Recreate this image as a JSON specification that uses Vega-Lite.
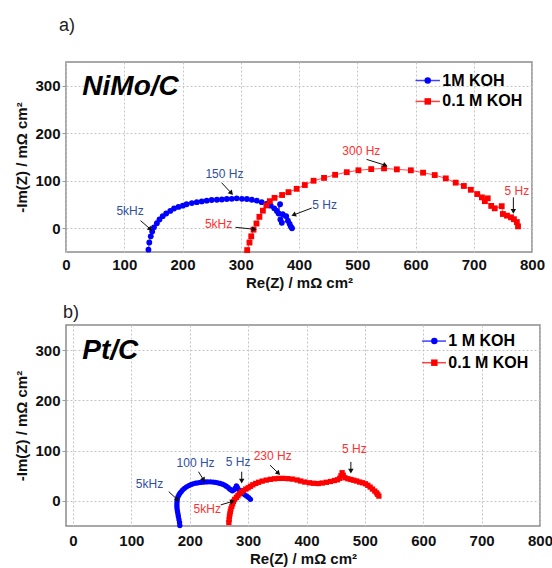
{
  "$schema": "https://vega.github.io/schema/vega-lite/v6.json",
  "background": "white",
  "padding": {"top": 16, "left": 14, "right": 0, "bottom": 0},
  "spacing": 12,
  "resolve": {"scale": {"color": "independent", "shape": "independent", "stroke": "independent", "x": "independent", "y": "independent"}},
  "datasets": {
    "nimo": [
      {"Re":141.5,"Im":-45,"s":"1M KOH"},{"Re":143,"Im":-30,"s":"1M KOH"},{"Re":145.5,"Im":-17,"s":"1M KOH"},{"Re":148,"Im":-7,"s":"1M KOH"},{"Re":151,"Im":2,"s":"1M KOH"},{"Re":156,"Im":10.5,"s":"1M KOH"},{"Re":160.5,"Im":18.5,"s":"1M KOH"},{"Re":166,"Im":25.5,"s":"1M KOH"},{"Re":172,"Im":31,"s":"1M KOH"},{"Re":179,"Im":36.5,"s":"1M KOH"},{"Re":185.5,"Im":41.5,"s":"1M KOH"},{"Re":193,"Im":45,"s":"1M KOH"},{"Re":200.5,"Im":47.5,"s":"1M KOH"},{"Re":207,"Im":50.5,"s":"1M KOH"},{"Re":216,"Im":53,"s":"1M KOH"},{"Re":224.5,"Im":55,"s":"1M KOH"},{"Re":233,"Im":56.5,"s":"1M KOH"},{"Re":241.5,"Im":58,"s":"1M KOH"},{"Re":250,"Im":59.5,"s":"1M KOH"},{"Re":259,"Im":60,"s":"1M KOH"},{"Re":267.5,"Im":60.5,"s":"1M KOH"},{"Re":276,"Im":61.5,"s":"1M KOH"},{"Re":284.5,"Im":62,"s":"1M KOH"},{"Re":293,"Im":63,"s":"1M KOH"},{"Re":302,"Im":62,"s":"1M KOH"},{"Re":310.5,"Im":61.5,"s":"1M KOH"},{"Re":319,"Im":60,"s":"1M KOH"},{"Re":327.5,"Im":58,"s":"1M KOH"},{"Re":336,"Im":55,"s":"1M KOH"},{"Re":345,"Im":52,"s":"1M KOH"},{"Re":351.5,"Im":47.5,"s":"1M KOH"},{"Re":357.5,"Im":42,"s":"1M KOH"},{"Re":362,"Im":36.5,"s":"1M KOH"},{"Re":367.5,"Im":50.5,"s":"1M KOH"},{"Re":365,"Im":31,"s":"1M KOH"},{"Re":372,"Im":29.5,"s":"1M KOH"},{"Re":378,"Im":25.5,"s":"1M KOH"},{"Re":368,"Im":18.5,"s":"1M KOH"},{"Re":370.5,"Im":11.5,"s":"1M KOH"},{"Re":381,"Im":16,"s":"1M KOH"},{"Re":384,"Im":9,"s":"1M KOH"},{"Re":386,"Im":3.5,"s":"1M KOH"},{"Re":388,"Im":0,"s":"1M KOH"},
      {"Re":311,"Im":-46,"s":"0.1 M KOH"},{"Re":315,"Im":-30,"s":"0.1 M KOH"},{"Re":318,"Im":-17,"s":"0.1 M KOH"},{"Re":322,"Im":-3,"s":"0.1 M KOH"},{"Re":327,"Im":10,"s":"0.1 M KOH"},{"Re":332,"Im":24,"s":"0.1 M KOH"},{"Re":338,"Im":37,"s":"0.1 M KOH"},{"Re":344,"Im":48,"s":"0.1 M KOH"},{"Re":350,"Im":57,"s":"0.1 M KOH"},{"Re":358,"Im":64,"s":"0.1 M KOH"},{"Re":371,"Im":70,"s":"0.1 M KOH"},{"Re":382,"Im":76,"s":"0.1 M KOH"},{"Re":396,"Im":83,"s":"0.1 M KOH"},{"Re":410,"Im":91,"s":"0.1 M KOH"},{"Re":425,"Im":100,"s":"0.1 M KOH"},{"Re":443,"Im":106,"s":"0.1 M KOH"},{"Re":462,"Im":112.5,"s":"0.1 M KOH"},{"Re":482,"Im":118,"s":"0.1 M KOH"},{"Re":502,"Im":122,"s":"0.1 M KOH"},{"Re":524,"Im":124.5,"s":"0.1 M KOH"},{"Re":546,"Im":126,"s":"0.1 M KOH"},{"Re":568,"Im":124,"s":"0.1 M KOH"},{"Re":592,"Im":122,"s":"0.1 M KOH"},{"Re":613,"Im":117,"s":"0.1 M KOH"},{"Re":633,"Im":112,"s":"0.1 M KOH"},{"Re":652,"Im":105,"s":"0.1 M KOH"},{"Re":669,"Im":96,"s":"0.1 M KOH"},{"Re":683,"Im":89,"s":"0.1 M KOH"},{"Re":695,"Im":81,"s":"0.1 M KOH"},{"Re":706,"Im":72,"s":"0.1 M KOH"},{"Re":714,"Im":65,"s":"0.1 M KOH"},{"Re":724,"Im":63,"s":"0.1 M KOH"},{"Re":719,"Im":57,"s":"0.1 M KOH"},{"Re":730,"Im":47,"s":"0.1 M KOH"},{"Re":736,"Im":42,"s":"0.1 M KOH"},{"Re":748,"Im":46.5,"s":"0.1 M KOH"},{"Re":750,"Im":30,"s":"0.1 M KOH"},{"Re":757,"Im":26.5,"s":"0.1 M KOH"},{"Re":764,"Im":23,"s":"0.1 M KOH"},{"Re":769,"Im":19,"s":"0.1 M KOH"},{"Re":774,"Im":13,"s":"0.1 M KOH"},{"Re":776,"Im":4,"s":"0.1 M KOH"}
    ],
    "pt": [
      {"Re":183,"Im":-49,"s":"1 M KOH"},{"Re":182.5,"Im":-43,"s":"1 M KOH"},{"Re":181.5,"Im":-37,"s":"1 M KOH"},{"Re":180.5,"Im":-31,"s":"1 M KOH"},{"Re":179.8,"Im":-26,"s":"1 M KOH"},{"Re":179,"Im":-21,"s":"1 M KOH"},{"Re":178.3,"Im":-16,"s":"1 M KOH"},{"Re":178,"Im":-11,"s":"1 M KOH"},{"Re":178,"Im":-6,"s":"1 M KOH"},{"Re":178.2,"Im":-1,"s":"1 M KOH"},{"Re":178.7,"Im":4,"s":"1 M KOH"},{"Re":179.8,"Im":8,"s":"1 M KOH"},{"Re":181.5,"Im":12,"s":"1 M KOH"},{"Re":183.3,"Im":15.5,"s":"1 M KOH"},{"Re":185.5,"Im":18.6,"s":"1 M KOH"},{"Re":188,"Im":22,"s":"1 M KOH"},{"Re":191,"Im":25,"s":"1 M KOH"},{"Re":194.5,"Im":28,"s":"1 M KOH"},{"Re":198.5,"Im":30.5,"s":"1 M KOH"},{"Re":202,"Im":32.5,"s":"1 M KOH"},{"Re":205.5,"Im":34,"s":"1 M KOH"},{"Re":210,"Im":35.2,"s":"1 M KOH"},{"Re":214,"Im":36,"s":"1 M KOH"},{"Re":218,"Im":36.8,"s":"1 M KOH"},{"Re":222.5,"Im":37.3,"s":"1 M KOH"},{"Re":227,"Im":37.8,"s":"1 M KOH"},{"Re":231,"Im":38,"s":"1 M KOH"},{"Re":235.5,"Im":38,"s":"1 M KOH"},{"Re":240,"Im":37.5,"s":"1 M KOH"},{"Re":244,"Im":37,"s":"1 M KOH"},{"Re":248,"Im":36,"s":"1 M KOH"},{"Re":252,"Im":34.8,"s":"1 M KOH"},{"Re":256,"Im":33.3,"s":"1 M KOH"},{"Re":259.5,"Im":31.5,"s":"1 M KOH"},{"Re":262.5,"Im":29.3,"s":"1 M KOH"},{"Re":265.5,"Im":27,"s":"1 M KOH"},{"Re":268,"Im":24,"s":"1 M KOH"},{"Re":270.5,"Im":22,"s":"1 M KOH"},{"Re":273,"Im":20,"s":"1 M KOH"},{"Re":275.5,"Im":22,"s":"1 M KOH"},{"Re":278,"Im":25.5,"s":"1 M KOH"},{"Re":280,"Im":30,"s":"1 M KOH"},{"Re":281.5,"Im":27,"s":"1 M KOH"},{"Re":283,"Im":23.5,"s":"1 M KOH"},{"Re":286,"Im":20,"s":"1 M KOH"},{"Re":289,"Im":17,"s":"1 M KOH"},{"Re":292,"Im":14,"s":"1 M KOH"},{"Re":295,"Im":11.5,"s":"1 M KOH"},{"Re":298,"Im":9,"s":"1 M KOH"},{"Re":301,"Im":6.5,"s":"1 M KOH"},{"Re":304,"Im":3,"s":"1 M KOH"},
      {"Re":267,"Im":-43,"s":"0.1 M KOH"},{"Re":267.5,"Im":-37,"s":"0.1 M KOH"},{"Re":268,"Im":-31,"s":"0.1 M KOH"},{"Re":268.8,"Im":-26,"s":"0.1 M KOH"},{"Re":269.5,"Im":-21,"s":"0.1 M KOH"},{"Re":270.5,"Im":-16,"s":"0.1 M KOH"},{"Re":272,"Im":-11,"s":"0.1 M KOH"},{"Re":273.5,"Im":-6,"s":"0.1 M KOH"},{"Re":275,"Im":-1,"s":"0.1 M KOH"},{"Re":277,"Im":3,"s":"0.1 M KOH"},{"Re":280,"Im":7,"s":"0.1 M KOH"},{"Re":282.5,"Im":10.5,"s":"0.1 M KOH"},{"Re":285,"Im":14,"s":"0.1 M KOH"},{"Re":288.5,"Im":17.5,"s":"0.1 M KOH"},{"Re":292,"Im":20.5,"s":"0.1 M KOH"},{"Re":296,"Im":23.5,"s":"0.1 M KOH"},{"Re":300,"Im":26,"s":"0.1 M KOH"},{"Re":304,"Im":29,"s":"0.1 M KOH"},{"Re":308,"Im":32,"s":"0.1 M KOH"},{"Re":313,"Im":34.7,"s":"0.1 M KOH"},{"Re":318,"Im":37,"s":"0.1 M KOH"},{"Re":324,"Im":39.3,"s":"0.1 M KOH"},{"Re":331,"Im":41.3,"s":"0.1 M KOH"},{"Re":338,"Im":42.8,"s":"0.1 M KOH"},{"Re":345,"Im":44,"s":"0.1 M KOH"},{"Re":352,"Im":44.7,"s":"0.1 M KOH"},{"Re":360,"Im":44.8,"s":"0.1 M KOH"},{"Re":368,"Im":44.2,"s":"0.1 M KOH"},{"Re":376,"Im":43.3,"s":"0.1 M KOH"},{"Re":384,"Im":41.5,"s":"0.1 M KOH"},{"Re":390,"Im":39.5,"s":"0.1 M KOH"},{"Re":397,"Im":37.5,"s":"0.1 M KOH"},{"Re":405,"Im":36,"s":"0.1 M KOH"},{"Re":412,"Im":35,"s":"0.1 M KOH"},{"Re":420,"Im":34.5,"s":"0.1 M KOH"},{"Re":427,"Im":35.5,"s":"0.1 M KOH"},{"Re":434,"Im":37,"s":"0.1 M KOH"},{"Re":441,"Im":38.5,"s":"0.1 M KOH"},{"Re":448,"Im":40.5,"s":"0.1 M KOH"},{"Re":453,"Im":42,"s":"0.1 M KOH"},{"Re":457,"Im":45,"s":"0.1 M KOH"},{"Re":459,"Im":50,"s":"0.1 M KOH"},{"Re":461,"Im":56,"s":"0.1 M KOH"},{"Re":463,"Im":51,"s":"0.1 M KOH"},{"Re":466,"Im":46,"s":"0.1 M KOH"},{"Re":471,"Im":44,"s":"0.1 M KOH"},{"Re":476,"Im":42.5,"s":"0.1 M KOH"},{"Re":481,"Im":41,"s":"0.1 M KOH"},{"Re":486,"Im":39.5,"s":"0.1 M KOH"},{"Re":491,"Im":37.5,"s":"0.1 M KOH"},{"Re":496,"Im":36,"s":"0.1 M KOH"},{"Re":501,"Im":34,"s":"0.1 M KOH"},{"Re":505,"Im":31,"s":"0.1 M KOH"},{"Re":509,"Im":27.5,"s":"0.1 M KOH"},{"Re":513,"Im":23.5,"s":"0.1 M KOH"},{"Re":517,"Im":19.5,"s":"0.1 M KOH"},{"Re":520,"Im":16,"s":"0.1 M KOH"},{"Re":522,"Im":13,"s":"0.1 M KOH"},{"Re":524,"Im":9.5,"s":"0.1 M KOH"}
    ],
    "legend_a": [
      {"label":"1M KOH","x1":600,"x2":642,"xm":621,"xt":646,"y":311,"k":"blue"},
      {"label":"0.1 M KOH","x1":600,"x2":642,"xm":621,"xt":646,"y":267,"k":"red"}
    ],
    "legend_b": [
      {"label":"1 M KOH","x1":598,"x2":639,"xm":619,"xt":643,"y":318,"k":"blue"},
      {"label":"0.1 M KOH","x1":598,"x2":639,"xm":619,"xt":643,"y":275,"k":"red"}
    ],
    "labels_a": [
      {"label":"5kHz","Re":110,"Im":36,"k":"blue"},
      {"label":"150 Hz","Re":272,"Im":114,"k":"blue"},
      {"label":"5 Hz","Re":444,"Im":48,"k":"blue"},
      {"label":"5kHz","Re":262,"Im":8,"k":"red"},
      {"label":"300 Hz","Re":507,"Im":163,"k":"red"},
      {"label":"5 Hz","Re":774,"Im":79,"k":"red"}
    ],
    "arrows_a": [
      {"Re":128,"Im":16,"Re2":144,"Im2":-1,"dir":135},
      {"Re":267,"Im":96,"Re2":283,"Im2":75,"dir":138},
      {"Re":422,"Im":42.6,"Re2":392,"Im2":28.6,"dir":248},
      {"Re":291,"Im":2,"Re2":322,"Im2":-2,"dir":97},
      {"Re":516,"Im":145,"Re2":547,"Im2":133,"dir":110},
      {"Re":768,"Im":65,"Re2":768,"Im2":37,"dir":180}
    ],
    "labels_b": [
      {"label":"5kHz","Re":131,"Im":33,"k":"blue"},
      {"label":"100 Hz","Re":210,"Im":76,"k":"blue"},
      {"label":"5 Hz","Re":283,"Im":78,"k":"blue"},
      {"label":"230 Hz","Re":342,"Im":89.5,"k":"red"},
      {"label":"5kHz","Re":230,"Im":-16.5,"k":"red"},
      {"label":"5 Hz","Re":482,"Im":104,"k":"red"}
    ],
    "arrows_b": [
      {"Re":164,"Im":18.4,"Re2":178,"Im2":3.3,"dir":135},
      {"Re":215,"Im":58,"Re2":223,"Im2":43,"dir":150},
      {"Re":289,"Im":58,"Re2":289,"Im2":41,"dir":180},
      {"Re":337.5,"Im":71,"Re2":351,"Im2":56,"dir":136},
      {"Re":253,"Im":-8,"Re2":272,"Im2":-1.5,"dir":73},
      {"Re":476,"Im":77.6,"Re2":476,"Im2":61,"dir":180}
    ],
    "cat_a": [{"label":"NiMo/C","Re":28,"Im":297}],
    "cat_b": [{"label":"Pt/C","Re":16,"Im":298}]
  },
  "vconcat": [
    {
      "title": {"text": "a)", "anchor": "start", "frame": "group", "fontSize": 18, "fontWeight": "normal", "baseline": "alphabetic", "offset": 13, "dx": -7, "color": "#222"},
      "width": 466,
      "height": 190,
      "encoding": {
        "x": {"field": "Re", "type": "quantitative", "scale": {"domain": [0, 800], "nice": false}, "axis": {"title": "Re(Z) / mΩ cm²", "values": [0,100,200,300,400,500,600,700,800], "grid": true}},
        "y": {"field": "Im", "type": "quantitative", "scale": {"domain": [-50, 350], "nice": false}, "axis": {"title": "-Im(Z) / mΩ cm²", "values": [0,100,200,300], "grid": true}}
      },
      "layer": [
        {
          "data": {"name": "nimo"},
          "mark": {"type": "line", "strokeWidth": 1, "opacity": 0.7},
          "encoding": {
            "stroke": {"field": "s", "type": "nominal", "scale": {"domain": ["1M KOH", "0.1 M KOH"], "range": ["#0000ff", "#ff0000"]}, "legend": null},
            "detail": {"field": "s"},
            "order": {"value": null}
          }
        },
        {
          "data": {"name": "nimo"},
          "transform": [{"filter": "datum.s == '1M KOH'"}],
          "mark": {"type": "point", "shape": "circle", "filled": true, "opacity": 1, "size": 34, "color": "#0000ff"},
          "encoding": {}
        },
        {
          "data": {"name": "nimo"},
          "transform": [{"filter": "datum.s == '0.1 M KOH'"}],
          "mark": {"type": "point", "shape": "square", "filled": true, "opacity": 1, "size": 34, "color": "#ff0000"},
          "encoding": {}
        },
        {
          "data": {"name": "legend_a"},
          "mark": {"type": "rule", "strokeWidth": 1.5, "opacity": 0.75},
          "encoding": {
            "x": {"field": "x1", "type": "quantitative"}, "x2": {"field": "x2"}, "y": {"field": "y", "type": "quantitative"},
            "color": {"field": "k", "type": "nominal", "scale": {"domain": ["blue", "red"], "range": ["#0000ff", "#ff0000"]}, "legend": null}
          }
        },
        {
          "data": {"name": "legend_a"},
          "mark": {"type": "point", "filled": true, "opacity": 1, "size": 42},
          "encoding": {
            "x": {"field": "xm", "type": "quantitative"}, "y": {"field": "y", "type": "quantitative"},
            "color": {"field": "k", "type": "nominal", "scale": {"domain": ["blue", "red"], "range": ["#0000ff", "#ff0000"]}, "legend": null},
            "shape": {"field": "k", "type": "nominal", "scale": {"domain": ["blue", "red"], "range": ["circle", "square"]}, "legend": null}
          }
        },
        {
          "data": {"name": "legend_a"},
          "mark": {"type": "text", "align": "left", "baseline": "middle", "font": "Liberation Sans", "fontSize": 16, "fontWeight": "bold", "color": "#000"},
          "encoding": {"x": {"field": "xt", "type": "quantitative"}, "y": {"field": "y", "type": "quantitative"}, "text": {"field": "label"}}
        },
        {
          "data": {"name": "labels_a"},
          "transform": [{"filter": "datum.k == 'blue'"}],
          "mark": {"type": "text", "font": "Liberation Sans", "fontSize": 12, "color": "#2f4f9f"},
          "encoding": {"text": {"field": "label"}}
        },
        {
          "data": {"name": "labels_a"},
          "transform": [{"filter": "datum.k == 'red'"}],
          "mark": {"type": "text", "font": "Liberation Sans", "fontSize": 12, "color": "#ff3030"},
          "encoding": {"text": {"field": "label"}}
        },
        {
          "data": {"name": "arrows_a"},
          "mark": {"type": "rule", "color": "#111", "strokeWidth": 1},
          "encoding": {"x2": {"field": "Re2"}, "y2": {"field": "Im2"}}
        },
        {
          "data": {"name": "arrows_a"},
          "mark": {"type": "point", "shape": "triangle", "filled": true, "color": "#111", "size": 30, "opacity": 1},
          "encoding": {"x": {"field": "Re2", "type": "quantitative"}, "y": {"field": "Im2", "type": "quantitative"}, "angle": {"field": "dir", "type": "quantitative", "scale": null}}
        },
        {
          "data": {"name": "cat_a"},
          "mark": {"type": "text", "align": "left", "baseline": "middle", "font": "Liberation Sans", "fontSize": 28, "fontWeight": "bold", "fontStyle": "italic", "color": "#000"},
          "encoding": {"text": {"field": "label"}}
        }
      ]
    },
    {
      "title": {"text": "b)", "anchor": "start", "frame": "group", "fontSize": 18, "fontWeight": "normal", "baseline": "alphabetic", "offset": -11, "dx": -3, "color": "#222"},
      "width": 474,
      "height": 201,
      "encoding": {
        "x": {"field": "Re", "type": "quantitative", "scale": {"domain": [-12, 800], "nice": false}, "axis": {"title": "Re(Z) / mΩ cm²", "values": [0,100,200,300,400,500,600,700,800], "grid": true, "labelPadding": 7}},
        "y": {"field": "Im", "type": "quantitative", "scale": {"domain": [-50, 350], "nice": false}, "axis": {"title": "-Im(Z) / mΩ cm²", "values": [0,100,200,300], "grid": true}}
      },
      "layer": [
        {
          "data": {"name": "pt"},
          "mark": {"type": "line", "strokeWidth": 1, "opacity": 0.7},
          "encoding": {
            "stroke": {"field": "s", "type": "nominal", "scale": {"domain": ["1 M KOH", "0.1 M KOH"], "range": ["#0000ff", "#ff0000"]}, "legend": null},
            "detail": {"field": "s"},
            "order": {"value": null}
          }
        },
        {
          "data": {"name": "pt"},
          "transform": [{"filter": "datum.s == '1 M KOH'"}],
          "mark": {"type": "point", "shape": "circle", "filled": true, "opacity": 1, "size": 28, "color": "#0000ff"},
          "encoding": {}
        },
        {
          "data": {"name": "pt"},
          "transform": [{"filter": "datum.s == '0.1 M KOH'"}],
          "mark": {"type": "point", "shape": "square", "filled": true, "opacity": 1, "size": 28, "color": "#ff0000"},
          "encoding": {}
        },
        {
          "data": {"name": "legend_b"},
          "mark": {"type": "rule", "strokeWidth": 1.5, "opacity": 0.75},
          "encoding": {
            "x": {"field": "x1", "type": "quantitative"}, "x2": {"field": "x2"}, "y": {"field": "y", "type": "quantitative"},
            "color": {"field": "k", "type": "nominal", "scale": {"domain": ["blue", "red"], "range": ["#0000ff", "#ff0000"]}, "legend": null}
          }
        },
        {
          "data": {"name": "legend_b"},
          "mark": {"type": "point", "filled": true, "opacity": 1, "size": 42},
          "encoding": {
            "x": {"field": "xm", "type": "quantitative"}, "y": {"field": "y", "type": "quantitative"},
            "color": {"field": "k", "type": "nominal", "scale": {"domain": ["blue", "red"], "range": ["#0000ff", "#ff0000"]}, "legend": null},
            "shape": {"field": "k", "type": "nominal", "scale": {"domain": ["blue", "red"], "range": ["circle", "square"]}, "legend": null}
          }
        },
        {
          "data": {"name": "legend_b"},
          "mark": {"type": "text", "align": "left", "baseline": "middle", "font": "Liberation Sans", "fontSize": 16, "fontWeight": "bold", "color": "#000"},
          "encoding": {"x": {"field": "xt", "type": "quantitative"}, "y": {"field": "y", "type": "quantitative"}, "text": {"field": "label"}}
        },
        {
          "data": {"name": "labels_b"},
          "transform": [{"filter": "datum.k == 'blue'"}],
          "mark": {"type": "text", "font": "Liberation Sans", "fontSize": 12, "color": "#2f4f9f"},
          "encoding": {"text": {"field": "label"}}
        },
        {
          "data": {"name": "labels_b"},
          "transform": [{"filter": "datum.k == 'red'"}],
          "mark": {"type": "text", "font": "Liberation Sans", "fontSize": 12, "color": "#ff3030"},
          "encoding": {"text": {"field": "label"}}
        },
        {
          "data": {"name": "arrows_b"},
          "mark": {"type": "rule", "color": "#111", "strokeWidth": 1},
          "encoding": {"x2": {"field": "Re2"}, "y2": {"field": "Im2"}}
        },
        {
          "data": {"name": "arrows_b"},
          "mark": {"type": "point", "shape": "triangle", "filled": true, "color": "#111", "size": 30, "opacity": 1},
          "encoding": {"x": {"field": "Re2", "type": "quantitative"}, "y": {"field": "Im2", "type": "quantitative"}, "angle": {"field": "dir", "type": "quantitative", "scale": null}}
        },
        {
          "data": {"name": "cat_b"},
          "mark": {"type": "text", "align": "left", "baseline": "middle", "font": "Liberation Sans", "fontSize": 28, "fontWeight": "bold", "fontStyle": "italic", "color": "#000"},
          "encoding": {"text": {"field": "label"}}
        }
      ]
    }
  ],
  "config": {
    "font": "Liberation Sans",
    "view": {"stroke": "#8c8c8c", "strokeWidth": 1.5},
    "axis": {
      "labelFont": "Liberation Sans", "labelFontWeight": "bold", "labelFontSize": 15, "labelColor": "#111",
      "titleFont": "Liberation Sans", "titleFontWeight": "bold", "titleFontSize": 15, "titleColor": "#111",
      "grid": true, "gridColor": "#c4c4c4", "gridDash": [2, 2], "gridWidth": 1, "gridOpacity": 1, "domain": false,
      "tickColor": "#999", "tickSize": 4
    },
    "axisX": {"ticks": false, "labelPadding": 5, "titlePadding": 3, "labelFlush": false},
    "axisY": {"labelPadding": 2, "titlePadding": 5}
  }
}
